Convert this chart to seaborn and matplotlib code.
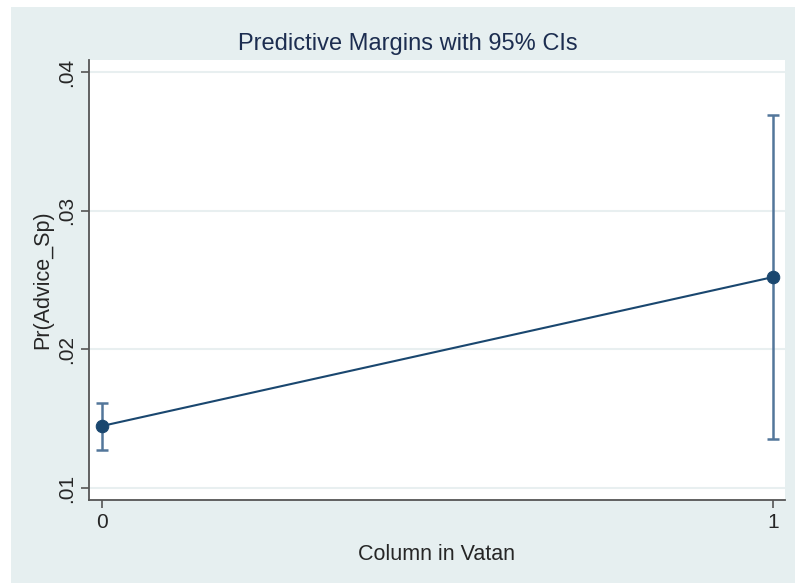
import numpy as np
import pandas as pd
import matplotlib
matplotlib.use("Agg")
import matplotlib.pyplot as plt
import seaborn as sns
from matplotlib.patches import Rectangle

# Predictive margins
vatan = [0, 1]
margin = [0.01447, 0.02521]
ci_low = [0.01274, 0.01353]
ci_high = [0.01613, 0.03689]
y_ticks = [0.01, 0.02, 0.03, 0.04]
y_tick_labels = [".01", ".02", ".03", ".04"]

data = pd.DataFrame({"vatan": vatan, "margin": margin,
                     "lo": ci_low, "hi": ci_high})

sns.set_style("white")
plt.rcParams["font.family"] = ["Liberation Sans", "DejaVu Sans"]

bg = "#e6eff0"
navy = "#1a476f"
ci_col = "#53769a"

fig = plt.figure(figsize=(7.95, 5.83), dpi=100, facecolor="white")
fig.patches.append(Rectangle((11 / 795, 0), 1 - 11 / 795, 1 - 7 / 583,
                             transform=fig.transFigure, facecolor=bg,
                             edgecolor="none", zorder=-10))
ax = fig.add_axes([89 / 795, 1 - 500 / 583, (785 - 89) / 795, (500 - 60) / 583])
ax.set_facecolor("white")

# confidence intervals
yerr = [data.margin - data.lo, data.hi - data.margin]
ax.errorbar(data.vatan, data.margin, yerr=yerr, fmt="none", ecolor=ci_col,
            elinewidth=1.8, capsize=4.5, capthick=1.8, zorder=2)

sns.lineplot(data=data, x="vatan", y="margin", ax=ax, color=navy,
             linewidth=1.5, marker="o", markersize=9, markeredgecolor=navy,
             zorder=3)

ax.set_xlim(-0.0194, 1.018)
ax.set_ylim(0.00913, 0.04087)
ax.set_xticks(vatan)
ax.set_xticklabels([str(v) for v in vatan], fontsize=15)
ax.set_yticks(y_ticks)
ax.set_yticklabels(y_tick_labels, fontsize=15, rotation=90, va="center")
ax.yaxis.grid(True, color="#e8eff0", linewidth=1.5)
ax.xaxis.grid(False)

for s in ["top", "right"]:
    ax.spines[s].set_visible(False)
for s in ["left", "bottom"]:
    ax.spines[s].set_color("#555555")
    ax.spines[s].set_linewidth(1.3)
ax.tick_params(axis="both", which="both", length=6, width=1.2,
               color="#555555", left=True, bottom=True, pad=3)

fig.text(408 / 795, 1 - 44 / 583, "Predictive Margins with 95% CIs",
         fontsize=17, color="#1c2d50", ha="center", va="center")
ax.set_xlabel("Column in Vatan", fontsize=15.5, labelpad=9)
ax.set_ylabel("Pr(Advice_Sp)", fontsize=15.5, labelpad=3)

fig.savefig("out.png", dpi=100, facecolor="white")
